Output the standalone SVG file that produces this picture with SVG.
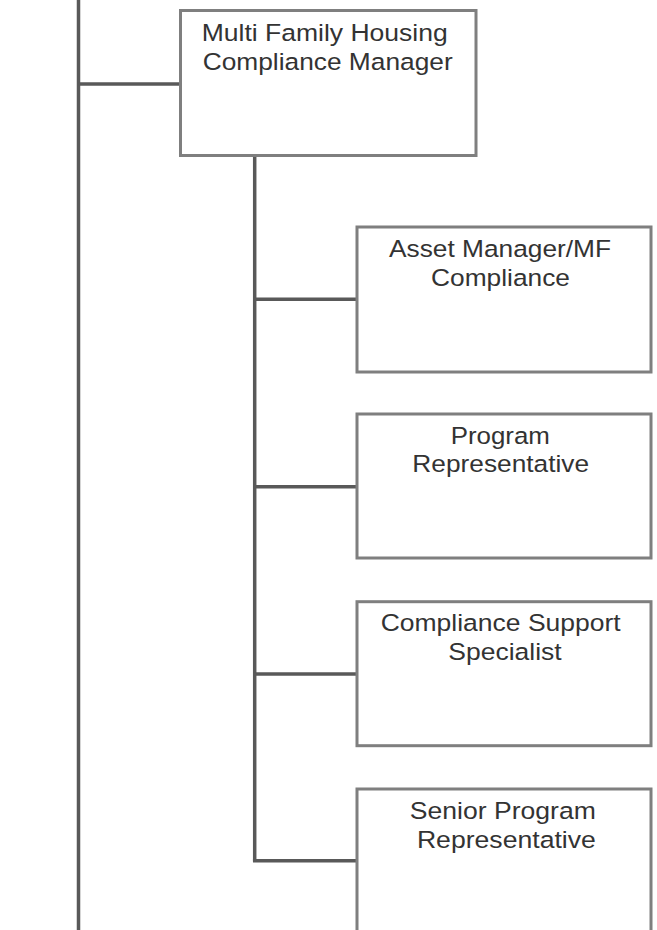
<svg xmlns="http://www.w3.org/2000/svg" width="657" height="930" viewBox="0 0 657 930">
<style>
.box{fill:#ffffff;stroke:#7f7f7f;stroke-width:3}
.conn{fill:none;stroke:#595959;stroke-width:3.5;stroke-linecap:butt}
.lbl{font-family:"Liberation Sans",Arial,sans-serif;font-size:24.5px;fill:#333333;text-anchor:middle}
</style>
<rect width="657" height="930" fill="#ffffff"/>
<g id="connectors">
<path class="conn" d="M78.5 0V930"/>
<path class="conn" d="M78.5 84H181"/>
<path class="conn" d="M254.7 156V860.7"/>
<path class="conn" d="M254.7 299.3H357"/>
<path class="conn" d="M254.7 486.7H357"/>
<path class="conn" d="M254.7 674H357"/>
<path class="conn" d="M252.95 860.7H357"/>
</g>
<g id="node-mfh-compliance-manager">
<rect class="box" x="180.5" y="10.5" width="295.5" height="145"/>
<text class="lbl" x="324.7" y="41" textLength="246" lengthAdjust="spacingAndGlyphs">Multi Family Housing</text>
<text class="lbl" x="327.7" y="70" textLength="250" lengthAdjust="spacingAndGlyphs">Compliance Manager</text>
</g>
<g id="node-asset-manager">
<rect class="box" x="357" y="227" width="294" height="145"/>
<text class="lbl" x="500" y="256.7" textLength="222" lengthAdjust="spacingAndGlyphs">Asset Manager/MF</text>
<text class="lbl" x="500.5" y="286" textLength="139" lengthAdjust="spacingAndGlyphs">Compliance</text>
</g>
<g id="node-program-representative">
<rect class="box" x="357" y="414" width="294" height="144"/>
<text class="lbl" x="500.3" y="444.3" textLength="99.3" lengthAdjust="spacingAndGlyphs">Program</text>
<text class="lbl" x="500.7" y="471.7" textLength="176.7" lengthAdjust="spacingAndGlyphs">Representative</text>
</g>
<g id="node-compliance-support-specialist">
<rect class="box" x="357" y="601.7" width="294" height="144"/>
<text class="lbl" x="500.7" y="630.7" textLength="240" lengthAdjust="spacingAndGlyphs">Compliance Support</text>
<text class="lbl" x="505" y="660" textLength="113.4" lengthAdjust="spacingAndGlyphs">Specialist</text>
</g>
<g id="node-senior-program-representative">
<rect class="box" x="357" y="789" width="294" height="160"/>
<text class="lbl" x="502.8" y="819" textLength="186" lengthAdjust="spacingAndGlyphs">Senior Program</text>
<text class="lbl" x="506.4" y="847.5" textLength="179" lengthAdjust="spacingAndGlyphs">Representative</text>
</g>
</svg>
